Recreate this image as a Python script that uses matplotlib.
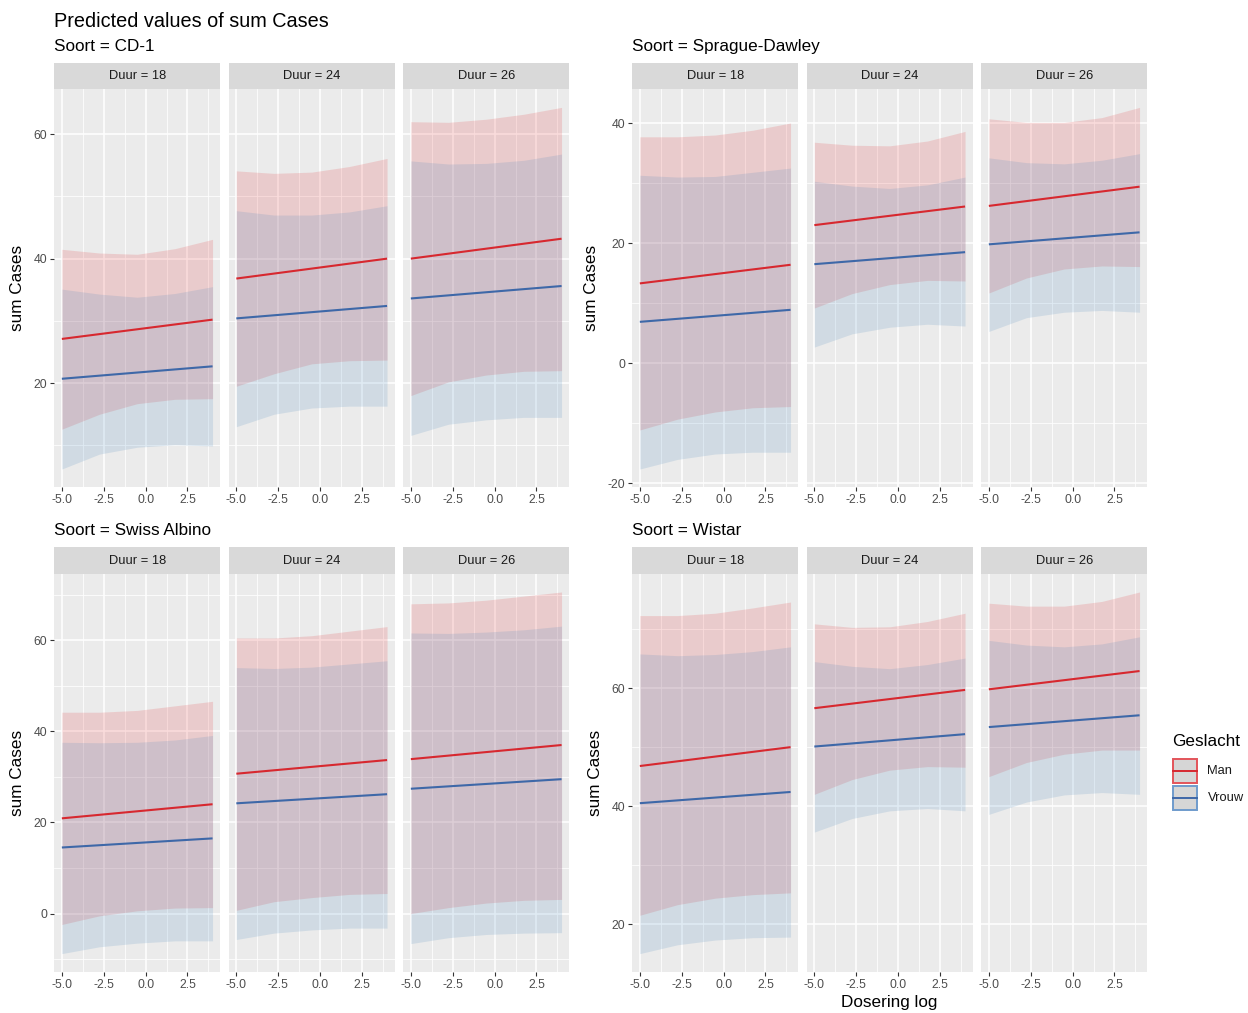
import matplotlib
matplotlib.use("Agg")
import matplotlib.pyplot as plt
from matplotlib.patches import Rectangle
from matplotlib.lines import Line2D

plt.rcParams['font.family'] = ['Liberation Sans', 'DejaVu Sans']

# ---------------- data ----------------
title = "Predicted values of sum Cases"
soorten = ["CD-1", "Sprague-Dawley", "Swiss Albino", "Wistar"]
duur_levels = [18, 24, 26]
geslacht = ["Man", "Vrouw"]
x_label = "Dosering log"
y_label = "sum Cases"
legend_title = "Geslacht"

x_line = [-5.0, 4.0]
x_ci = [-5.0, -2.75, -0.5, 1.75, 4.0]
x_ticks = [-5.0, -2.5, 0.0, 2.5]
x_tick_labels = ["-5.0", "-2.5", "0.0", "2.5"]
x_minor = [-3.75, -1.25, 1.25, 3.75]

# CD-1 (per Duur 18, 24, 26)
cd1_man_fit = [[27.1, 30.2], [36.8, 40.0], [40.0, 43.2]]
cd1_man_hi = [[41.5, 40.9, 40.7, 41.6, 43.1], [54.1, 53.7, 53.9, 54.8, 56.1], [62.0, 61.9, 62.4, 63.2, 64.3]]
cd1_man_lo = [[12.6, 15.0, 16.7, 17.4, 17.5], [19.5, 21.5, 23.1, 23.6, 23.7], [18.0, 20.2, 21.3, 21.9, 22.0]]
cd1_vrouw_fit = [[20.7, 22.7], [30.4, 32.4], [33.6, 35.6]]
cd1_vrouw_hi = [[35.1, 34.3, 33.8, 34.4, 35.5], [47.7, 47.0, 47.0, 47.5, 48.5], [55.7, 55.2, 55.3, 55.8, 56.8]]
cd1_vrouw_lo = [[6.2, 8.6, 9.7, 10.1, 9.9], [13.0, 15.0, 16.0, 16.3, 16.3], [11.6, 13.4, 14.1, 14.5, 14.5]]
cd1_yticks = [20, 40, 60]

# Sprague-Dawley
sd_man_fit = [[13.3, 16.4], [23.0, 26.1], [26.2, 29.4]]
sd_man_hi = [[37.7, 37.7, 38.0, 38.8, 40.0], [36.8, 36.3, 36.2, 37.0, 38.6], [40.7, 40.1, 40.1, 40.9, 42.6]]
sd_man_lo = [[-11.1, -9.3, -8.1, -7.4, -7.2], [9.2, 11.6, 13.1, 13.8, 13.7], [11.7, 14.2, 15.7, 16.2, 16.1]]
sd_vrouw_fit = [[6.9, 8.9], [16.5, 18.5], [19.8, 21.8]]
sd_vrouw_hi = [[31.3, 31.0, 31.1, 31.8, 32.5], [30.3, 29.5, 29.1, 29.7, 31.0], [34.2, 33.4, 33.2, 33.8, 34.9]]
sd_vrouw_lo = [[-17.6, -16.0, -15.1, -14.8, -14.8], [2.7, 4.9, 6.0, 6.5, 6.2], [5.3, 7.6, 8.5, 8.8, 8.5]]
sd_yticks = [-20, 0, 20, 40]

# Swiss Albino
sa_man_fit = [[20.9, 24.0], [30.7, 33.7], [33.9, 37.0]]
sa_man_hi = [[44.2, 44.2, 44.6, 45.6, 46.6], [60.5, 60.5, 61.0, 62.0, 63.0], [68.0, 68.2, 68.8, 69.7, 70.6]]
sa_man_lo = [[-2.4, -0.5, 0.6, 1.2, 1.3], [0.7, 2.6, 3.5, 4.2, 4.4], [0.0, 1.3, 2.3, 2.9, 3.1]]
sa_vrouw_fit = [[14.5, 16.5], [24.2, 26.2], [27.4, 29.5]]
sa_vrouw_hi = [[37.6, 37.5, 37.6, 38.1, 39.1], [54.0, 53.8, 54.1, 54.8, 55.5], [61.6, 61.5, 61.8, 62.3, 63.1]]
sa_vrouw_lo = [[-8.8, -7.3, -6.5, -6.0, -6.0], [-5.7, -4.3, -3.6, -3.2, -3.2], [-6.6, -5.3, -4.6, -4.3, -4.2]]
sa_yticks = [0, 20, 40, 60]

# Wistar
wi_man_fit = [[46.8, 50.0], [56.6, 59.7], [59.8, 62.9]]
wi_man_hi = [[72.3, 72.3, 72.7, 73.6, 74.6], [70.9, 70.3, 70.4, 71.3, 72.7], [74.4, 73.9, 73.9, 74.7, 76.3]]
wi_man_lo = [[21.5, 23.3, 24.4, 25.0, 25.3], [42.0, 44.5, 46.1, 46.7, 46.6], [45.0, 47.4, 48.8, 49.5, 49.5]]
wi_vrouw_fit = [[40.5, 42.4], [50.1, 52.2], [53.4, 55.4]]
wi_vrouw_hi = [[65.8, 65.5, 65.7, 66.2, 67.0], [64.5, 63.7, 63.3, 64.0, 65.1], [68.1, 67.3, 67.0, 67.5, 68.7]]
wi_vrouw_lo = [[15.0, 16.5, 17.3, 17.7, 17.8], [35.6, 37.9, 39.2, 39.6, 39.2], [38.6, 40.7, 41.9, 42.3, 42.0]]
wi_yticks = [20, 40, 60]

groups = [
    (cd1_man_fit, cd1_man_lo, cd1_man_hi, cd1_vrouw_fit, cd1_vrouw_lo, cd1_vrouw_hi, cd1_yticks),
    (sd_man_fit, sd_man_lo, sd_man_hi, sd_vrouw_fit, sd_vrouw_lo, sd_vrouw_hi, sd_yticks),
    (sa_man_fit, sa_man_lo, sa_man_hi, sa_vrouw_fit, sa_vrouw_lo, sa_vrouw_hi, sa_yticks),
    (wi_man_fit, wi_man_lo, wi_man_hi, wi_vrouw_fit, wi_vrouw_lo, wi_vrouw_hi, wi_yticks),
]

# ---------------- style ----------------
W, H = 1248, 1013
line_colors = ["#d7282f", "#3e68a8"]
fill_colors = ["#e41a1c", "#377eb8"]
key_edge = ["#e3545a", "#6f9bcc"]
panel_bg = "#EBEBEB"
strip_bg = "#D9D9D9"
tick_col = "#4D4D4D"

fig = plt.figure(figsize=(W / 100, H / 100), dpi=100)
fig.patch.set_facecolor("white")


def fbox(x0, y0, x1, y1):
    return [x0 / W, 1 - y1 / H, (x1 - x0) / W, (y1 - y0) / H]


group_origin = [(54.3, 62.7), (632.3, 62.7), (54.3, 547.3), (632.3, 547.3)]
panel_w, gap, strip_h, panel_h = 165.8, 8.7, 26.6, 397.8


def expand(lo, hi, frac=0.05):
    d = (hi - lo) * frac
    return lo - d, hi + d


xlim = expand(min(x_line), max(x_line))

for gi, (soort, grp) in enumerate(zip(soorten, groups)):
    m_fit, m_lo, m_hi, v_fit, v_lo, v_hi, yticks = grp
    allv = [v for arr in (m_fit, m_lo, m_hi, v_fit, v_lo, v_hi) for row in arr for v in row]
    ylim = expand(min(allv), max(allv))
    step = yticks[1] - yticks[0]
    yminor = [t + step / 2 for t in [yticks[0] - step] + list(yticks)]
    gx, gy = group_origin[gi]
    for di, duur in enumerate(duur_levels):
        x0 = gx + di * (panel_w + gap)
        sax = fig.add_axes(fbox(x0, gy, x0 + panel_w, gy + strip_h))
        sax.set_facecolor(strip_bg)
        sax.set_xticks([]); sax.set_yticks([])
        for s in sax.spines.values():
            s.set_visible(False)
        sax.text(0.5, 0.5, f"Duur = {duur}", ha="center", va="center",
                 fontsize=9.3, color="#1A1A1A", transform=sax.transAxes)

        ax = fig.add_axes(fbox(x0, gy + strip_h, x0 + panel_w, gy + strip_h + panel_h))
        ax.set_facecolor(panel_bg)
        for s in ax.spines.values():
            s.set_visible(False)
        ax.set_xlim(*xlim)
        ax.set_ylim(*ylim)
        ax.set_xticks(x_ticks)
        ax.set_xticklabels(x_tick_labels)
        ax.set_xticks(x_minor, minor=True)
        ax.set_yticks(yticks)
        ax.set_yticks([t for t in yminor if ylim[0] < t < ylim[1]], minor=True)
        ax.grid(True, which="major", color="white", linewidth=1.1, zorder=0)
        ax.grid(True, which="minor", color="white", linewidth=0.55, zorder=0)
        ax.set_axisbelow(True)
        ax.tick_params(which="minor", length=0)
        ax.tick_params(which="major", length=3, width=0.8, color="#333333",
                       labelsize=8.8, labelcolor=tick_col, pad=2)
        if di == 0:
            ax.set_yticklabels([str(t) for t in yticks])
            ax.set_ylabel(y_label, fontsize=12.3, color="black", labelpad=6)
        else:
            ax.tick_params(axis="y", which="major", length=0, labelleft=False)

        fits = [m_fit, v_fit]; los = [m_lo, v_lo]; his = [m_hi, v_hi]
        for si in range(2):
            ax.fill_between(x_ci, los[si][di], his[si][di], color=fill_colors[si],
                            alpha=0.15, linewidth=0, zorder=2)
        for si in range(2):
            ax.plot(x_line, fits[si][di], color=line_colors[si], linewidth=1.5,
                    solid_capstyle="butt", zorder=3)

    # group subtitle
    fig.text(gx / W, 1 - (gy - 12) / H, f"Soort = {soort}", fontsize=12.3,
             ha="left", va="baseline", color="black")

fig.text(54.3 / W, 1 - 26.7 / H, title, fontsize=14.3, ha="left", va="baseline", color="black")
fig.text(889 / W, 1 - 1007 / H, x_label, fontsize=12.3, ha="center", va="baseline", color="black")

# legend
fig.text(1172.5 / W, 1 - 746 / H, legend_title, fontsize=12.3, ha="left", va="baseline", color="black")
key_top = [758.5, 786.2]
for si, lab in enumerate(geslacht):
    y0 = key_top[si]
    rect = Rectangle((1173.3 / W, 1 - (y0 + 24) / H), 23.5 / W, 24 / H,
                     transform=fig.transFigure, facecolor="#D6D6D6",
                     edgecolor=key_edge[si], linewidth=1.4)
    fig.add_artist(rect)
    fig.add_artist(Line2D([1173.3 / W, 1196.8 / W], [1 - (y0 + 12) / H] * 2,
                          transform=fig.transFigure, color=line_colors[si], linewidth=1.4))
    fig.text(1207.5 / W, 1 - (y0 + 12) / H, lab, fontsize=9.3, ha="left",
             va="center", color="#1A1A1A")

fig.savefig("out.png", dpi=100, facecolor="white")
